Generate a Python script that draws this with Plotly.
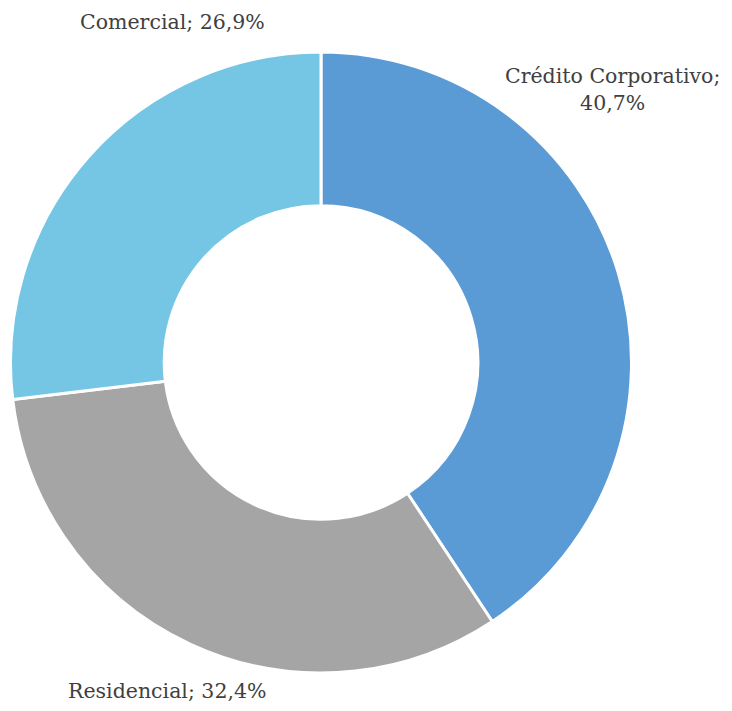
import plotly.graph_objects as go

labels = ["Crédito Corporativo", "Residencial", "Comercial"]
values = [40.7, 32.4, 26.9]
colors = ["#5B9BD5", "#A5A5A5", "#75C6E4"]

# page body has an 8px margin, so the figure starts at (8, 8)
OFF = 8
W, H = 732 - 2 * OFF, 711 - 2 * OFF


def fx(x):
    return (x - OFF) / W


def fy(y):
    return 1 - (y - OFF) / H


def fmt(v):
    return f"{v:.1f}".replace(".", ",") + "%"


# label centres in window pixels
label_pos = {
    "Crédito Corporativo": (612, 90),
    "Residencial": (167, 691),
    "Comercial": (172, 22),
}

fig = go.Figure(go.Pie(
    labels=labels,
    values=values,
    hole=0.505,
    sort=False,
    direction="clockwise",
    rotation=0,
    marker=dict(colors=colors, line=dict(color="white", width=3)),
    textinfo="none",
    hoverinfo="label+percent",
    domain=dict(x=[fx(10), fx(632)], y=[fy(673), fy(52)]),
    showlegend=False,
))

for lab, val in zip(labels, values):
    px_, py_ = label_pos[lab]
    if lab == "Crédito Corporativo":
        text = f"{lab};<br>{fmt(val)}"
    else:
        text = f"{lab}; {fmt(val)}"
    fig.add_annotation(
        text=text, x=fx(px_), y=fy(py_), xref="paper", yref="paper",
        showarrow=False, xanchor="center", yanchor="middle",
        font=dict(family="DejaVu Serif", size=20.5, color="#404040"),
    )

fig.update_layout(
    width=W, height=H,
    margin=dict(l=0, r=0, t=0, b=0),
    paper_bgcolor="white",
    plot_bgcolor="white",
)

fig.write_html("out.html")
